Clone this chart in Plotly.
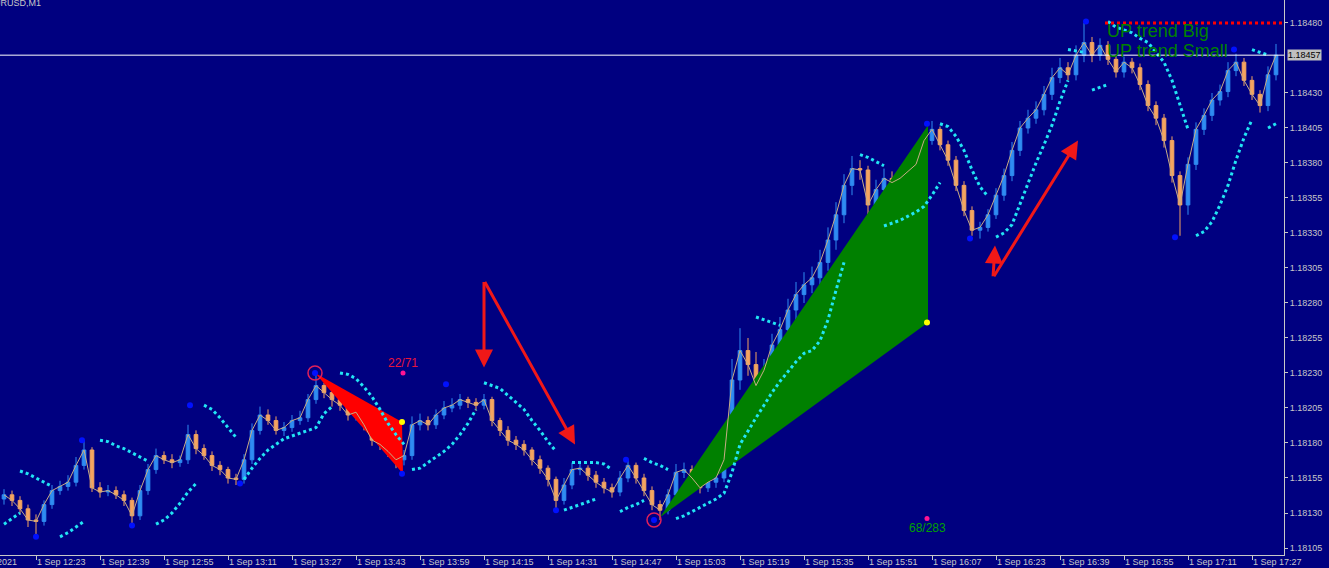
import plotly.graph_objects as go
import pandas as pd

# ---------------- data (prices in points: 1.18 + p/1e5) ----------------
BASE = 1.18
bar_start = "2021-09-01 12:15"
bar_count = 160  # 2-minute bars

open_pts = [140,143,139,133,125,124,136,146,149,152, 164,175,148,145,146,143,139,128,146,161,
            171,168,166,168,186,176,171,164,161,155, 154,168,189,200,196,189,191,196,198,211,
            221,216,211,207,200,202,193,182,179,174, 168,171,193,196,193,200,205,207,211,209,
            207,211,196,189,182,179,175,168,162,154, 139,150,161,162,157,152,148,145,155,164,
            155,146,136,132,143,159,161,155,148,152, 155,168,225,246,236,221,232,250,261,275,
            286,293,298,309,325,343,364,376,375,350, 361,369,366,369,374,379,396,404,393,382,
            364,346,332,334,343,357,371,389,405,412, 418,429,441,448,443,457,466,457,464,454,
            445,452,448,436,421,412,396,371,350,379, 404,414,425,431,446,452,439,429,421,443]
close_pts = [143,139,133,125,124,136,146,149,152,164, 175,148,145,146,143,139,128,146,161,171,
             168,166,168,186,176,171,164,161,155,154, 168,189,200,196,189,191,196,198,211,221,
             216,211,207,200,202,193,182,179,174,168, 171,193,196,193,200,205,207,211,209,207,
             211,196,189,182,179,175,168,162,154,139, 150,161,162,157,152,148,145,155,164,155,
             146,136,132,143,159,161,155,148,152,155, 168,225,246,236,221,232,250,261,275,286,
             293,298,309,325,343,364,376,375,350,361, 369,366,369,374,379,396,404,393,382,364,
             346,332,334,343,357,371,389,405,412,418, 429,441,448,443,457,466,457,464,454,445,
             452,448,436,421,412,396,371,350,379,404, 414,425,431,446,452,439,429,421,443,457]
high_pts = [147,146,142,136,129,139,150,153,157,170, 182,177,152,150,149,146,141,150,165,176,
            174,172,171,193,189,179,174,167,163,158, 172,194,206,204,199,195,200,203,215,229,
            223,219,214,210,206,204,196,186,182,177, 175,199,201,199,204,210,212,215,213,212,
            215,213,198,192,185,182,177,171,164,156, 155,166,165,164,160,155,151,160,168,166,
            158,149,139,147,165,166,164,158,158,160, 175,240,262,255,245,240,258,270,283,295,
            302,306,318,334,352,372,385,382,378,368, 376,374,377,381,386,402,410,406,396,385,
            367,349,338,347,362,376,395,410,418,424, 435,448,455,452,464,480,470,469,467,457,
            456,455,451,439,424,415,399,374,384,409, 419,430,436,452,458,455,442,432,449,465]
low_pts = [136,135,129,120,113,121,133,143,146,149, 161,145,141,142,140,135,122,125,143,158,
           165,162,163,165,172,168,160,157,151,150, 151,165,186,193,186,185,188,193,195,208,
           212,206,203,196,196,189,178,175,170,162, 164,168,189,189,190,197,202,204,205,203,
           204,192,185,178,175,171,164,158,149,132, 136,147,157,153,148,144,141,142,152,151,
           142,132,125,129,140,155,151,144,145,148, 152,165,218,228,214,215,226,244,255,268,
           280,287,292,303,318,337,357,368,343,345, 356,361,361,364,370,376,393,389,378,360,
           342,328,326,331,340,353,367,385,401,408, 414,425,437,439,439,452,452,453,450,441,
           441,444,432,417,407,391,366,328,343,375, 400,410,421,427,442,435,425,416,417,439]

# trailing-stop dots (start bar index, values)
sar_above_segments = [(2, [160,158,155,152,149]), (12, [182,181,178,176,173,170,167]),
                      (25, [207,204,198,191,184]), (42, [230,229,226,220,213,204,194,186,179]),
                      (60, [223,221,219,214,209,204,196,189,181,174]), (71, [166,166,166,166,165,161]),
                      (80, [169,166,164,161]), (94, [270,268,266,264]), (107, [386,384,381,378]),
                      (117, [408,406,399,389,375,363,356]), (133, [461,460,459]),
                      (138, [481,477,475,473,469,466,459,452,439,421,404]), (156, [461,459,457])]
sar_below_segments = [(0, [122,126,130]), (7, [113,116,120,124]), (19, [122,125,130,137,145,151]),
                      (30, [154,162,169,175,179,183,185,187,189,191,201,206]),
                      (51, [161,162,166,170,174,179,186,194,204]), (70, [132,134,136,138,140]),
                      (77, [131,134,136,139]),
                      (84, [126,128,131,134,137,140,144,159,179,189,198,207,216,224,231,238,244,246,253,268,289,309]),
                      (110, [335,337,339,342,345,349,357,366]),
                      (124, [327,330,336,351,366,380,393,407,424,439]), (136, [432,434,436]),
                      (149, [328,331,338,350,364,382,398,411]), (158, [405,408])]

fractal_times = ["12:23:00","12:34:30","12:47:00","13:01:30","13:14:00","13:32:45","13:54:30","14:05:30",
                 "14:33:00","14:50:30","14:57:30","16:05:45","16:16:30","16:45:30","17:07:45","17:22:30"]
fractal_pts = [113,182,121,207,151,230,158,222,132,168,125,408,326,481,327,461]

pivot_times = ["13:32:45", "14:57:30"]
pivot_pts = [230, 125]

red_tri_times = ["13:32:45", "13:54:30", "13:54:45"]
red_tri_pts = [230, 195, 158]
green_tri_times = ["14:59:00", "16:06:00", "16:06:00"]
green_tri_pts = [127, 407, 266]

yellow_times = ["13:54:30", "16:05:45"]
yellow_pts = [195, 266]
magenta_times = ["13:54:45", "16:05:45"]
magenta_pts = [230, 126]
count_labels = ["22/71", "68/283"]
count_label_pts = [237, 119]

# arrows: (tail time, tail pts, head time, head pts)
arrows = [("14:15:00", 296, "14:15:00", 234), ("14:15:00", 296, "14:37:45", 179),
          ("16:22:15", 298, "16:22:45", 321), ("16:22:15", 298, "16:43:30", 396)]

bid_price = 1.18457
big_level = 1.18480
big_level_start = "16:50:15"

y_tick_vals = [1.18105,1.18130,1.18155,1.18180,1.18205,1.18230,1.18255,1.18280,
               1.18305,1.18330,1.18355,1.18380,1.18405,1.18430,1.18480]
x_tick_times = ["12:23","12:39","12:55","13:11","13:27","13:43","13:59","14:15","14:31","14:47",
                "15:03","15:19","15:35","15:51","16:07","16:23","16:39","16:55","17:11","17:27"]

# ---------------- helpers ----------------
DAY = "2021-09-01 "
def price(p):
    return BASE + p / 1e5

def ts(t):
    return pd.Timestamp(DAY + t)

times = pd.date_range(bar_start, periods=bar_count, freq="2min")

def seg_xy(segments):
    xs, ys = [], []
    for start, vals in segments:
        for i, v in enumerate(vals):
            xs.append(times[start + i])
            ys.append(price(v))
        xs.append(None)
        ys.append(None)
    return xs, ys

BG = "#000080"
AX = "#C8C8C8"
CYAN = "#22E4F4"

fig = go.Figure()

# filled triangles (below candles)
fig.add_trace(go.Scatter(x=[ts(t) for t in green_tri_times], y=[price(p) for p in green_tri_pts],
                         fill="toself", fillcolor="#008000", mode="lines",
                         line=dict(color="#008000", width=0), hoverinfo="skip"))
fig.add_trace(go.Scatter(x=[ts(t) for t in red_tri_times], y=[price(p) for p in red_tri_pts],
                         fill="toself", fillcolor="#FF0000", mode="lines",
                         line=dict(color="#FF0000", width=0), hoverinfo="skip"))

# candles
fig.add_trace(go.Candlestick(
    x=times, open=[price(p) for p in open_pts], high=[price(p) for p in high_pts],
    low=[price(p) for p in low_pts], close=[price(p) for p in close_pts],
    increasing=dict(line=dict(color="#2F8CF2", width=1), fillcolor="#2F8CF2"),
    decreasing=dict(line=dict(color="#F4A460", width=1), fillcolor="#F4A460"),
    whiskerwidth=0, hoverinfo="skip"))

# close line
fig.add_trace(go.Scatter(x=times, y=[price(p) for p in close_pts], mode="lines",
                         line=dict(color="#C8AC86", width=1), hoverinfo="skip"))

# trailing dots
for segs in (sar_above_segments, sar_below_segments):
    xs, ys = seg_xy(segs)
    fig.add_trace(go.Scatter(x=xs, y=ys, mode="lines", connectgaps=False,
                             line=dict(color=CYAN, width=3, dash="dot"), hoverinfo="skip"))

# fractal dots
fig.add_trace(go.Scatter(x=[ts(t) for t in fractal_times], y=[price(p) for p in fractal_pts],
                         mode="markers", marker=dict(color="#0010FF", size=6), hoverinfo="skip"))
# pivot circles
fig.add_trace(go.Scatter(x=[ts(t) for t in pivot_times], y=[price(p) for p in pivot_pts],
                         mode="markers", marker=dict(symbol="circle-open", color="#E0205A", size=14,
                                                     line=dict(width=1.5, color="#E0205A")),
                         hoverinfo="skip"))
fig.add_trace(go.Scatter(x=[ts(t) for t in yellow_times], y=[price(p) for p in yellow_pts],
                         mode="markers", marker=dict(color="#FFFF00", size=6), hoverinfo="skip"))
fig.add_trace(go.Scatter(x=[ts(t) for t in magenta_times], y=[price(p) for p in magenta_pts],
                         mode="markers", marker=dict(color="#FF1493", size=5), hoverinfo="skip"))

# level lines
fig.add_shape(type="line", xref="paper", x0=0, x1=1, yref="y", y0=bid_price, y1=bid_price,
              line=dict(color="#FFFFFF", width=1))
fig.add_shape(type="line", xref="x", x0=ts(big_level_start), x1=ts("17:35:00"), yref="y",
              y0=big_level, y1=big_level, line=dict(color="#FF0000", width=3, dash="dot"))

annotations = []
for (t0, p0, t1, p1) in arrows:
    annotations.append(dict(x=ts(t1), y=price(p1), ax=ts(t0), ay=price(p0), xref="x", yref="y",
                            axref="x", ayref="y", showarrow=True, arrowhead=2, arrowsize=1.2,
                            arrowwidth=3, arrowcolor="#F01818", text=""))

annotations.append(dict(x=ts(magenta_times[0]), y=price(count_label_pts[0]), text=count_labels[0],
                        showarrow=False, font=dict(family="Liberation Sans", size=12, color="#E8143C")))
annotations.append(dict(x=ts(magenta_times[1]), y=price(count_label_pts[1]), text=count_labels[1],
                        showarrow=False, font=dict(family="Liberation Sans", size=12, color="#00A000")))

annotations.append(dict(x=ts("16:50:15"), y=price(474), xanchor="left", yanchor="middle",
                        text="UP trend Big", showarrow=False,
                        font=dict(family="Liberation Sans", size=18, color="#008000")))
annotations.append(dict(x=ts("16:50:15"), y=price(460), xanchor="left", yanchor="middle",
                        text="UP trend Small", showarrow=False,
                        font=dict(family="Liberation Sans", size=18, color="#008000")))

# bid price label
annotations.append(dict(xref="paper", x=1, xanchor="left", xshift=3, yref="y", y=bid_price,
                        yanchor="middle", text="1.18457", showarrow=False, bgcolor="#C0C0C0",
                        borderpad=0, font=dict(family="Liberation Sans", size=9, color="#000000")))

# symbol label top-left
annotations.append(dict(xref="paper", x=0, xanchor="right", xshift=43, yref="paper", y=1,
                        yanchor="middle", yshift=-3, text="EURUSD,M1", showarrow=False,
                        font=dict(family="Liberation Sans", size=9, color=AX)))

# time labels (left aligned at tick like MT4)
for t in x_tick_times:
    annotations.append(dict(x=ts(t), xref="x", xanchor="left", xshift=0, yref="paper", y=0,
                            yanchor="top", yshift=-1, text="1 Sep " + t, showarrow=False,
                            borderpad=0, font=dict(family="Liberation Sans", size=9, color=AX)))
annotations.append(dict(xref="paper", x=0, xanchor="right", xshift=18, yref="paper", y=0,
                        yanchor="top", yshift=-1, text="1 Sep 2021", showarrow=False, borderpad=0,
                        font=dict(family="Liberation Sans", size=9, color=AX)))

fig.update_layout(
    width=1329, height=568, margin=dict(l=0, r=45, t=0, b=13, autoexpand=False),
    paper_bgcolor=BG, plot_bgcolor=BG, showlegend=False, boxgap=0.35,
    annotations=annotations,
    xaxis=dict(type="date", range=[ts("12:14:00"), ts("17:35:00")], rangeslider=dict(visible=False),
               showgrid=False, zeroline=False, showline=True, linecolor=AX, linewidth=1,
               tickvals=[ts(t) for t in x_tick_times], showticklabels=False,
               ticks="outside", ticklen=4, tickcolor=AX, automargin=False),
    yaxis=dict(range=[1.18100, 1.184964], side="right", showgrid=False, zeroline=False,
               showline=True, linecolor=AX, linewidth=1, tickvals=y_tick_vals, automargin=False,
               ticktext=["%.5f" % v for v in y_tick_vals], ticks="outside", ticklen=3,
               tickcolor=AX, tickfont=dict(family="Liberation Sans", size=9, color=AX)),
)

fig.write_html("out.html", config={"displayModeBar": False},
               post_script="document.body.style.margin='0';document.body.style.overflow='hidden';")
